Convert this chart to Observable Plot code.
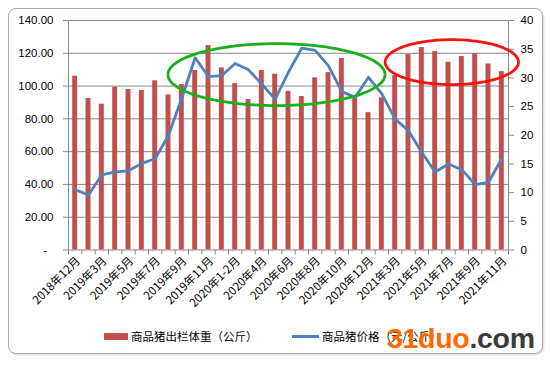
<!DOCTYPE html>
<html>
<head>
<meta charset="utf-8">
<script src="https://cdn.jsdelivr.net/npm/d3@7"></script>
<script src="https://cdn.jsdelivr.net/npm/@observablehq/plot@0.6"></script>
<style>
  html, body { margin: 0; padding: 0; background: #fff; }
  #wrap { position: relative; width: 550px; height: 366px; overflow: hidden; font-family: "Liberation Sans", "Noto Sans CJK SC", sans-serif; }
  #frame { position: absolute; left: 8px; top: 8px; width: 533px; height: 344px; border: 1.5px solid #a9a9a9; border-radius: 8px; box-shadow: 1px 1px 2px rgba(0,0,0,0.15); pointer-events: none; }
  #chart { position: absolute; left: 0; top: 0; }
  #legend { position: absolute; left: 0; top: 326px; width: 550px; height: 20px; font-family: "Noto Sans CJK SC", sans-serif; font-size: 11.5px; color: #000; }
  .item { position: absolute; top: 0; display: flex; align-items: center; height: 20px; }
  .sw { display: inline-block; margin-right: 3px; }
  #wm { position: absolute; left: 387px; top: 322px; font-family: "Liberation Sans", Arial, sans-serif; font-weight: bold; font-size: 28.5px; letter-spacing: -0.3px; }
</style>
</head>
<body>
<div id="wrap">
  <div id="chart"></div>
  <div id="legend"></div>
  <div id="frame"></div>
  <div id="wm"><span style="color:#ff6a00">31duo</span><span style="color:#3a3a3a">.com</span></div>
</div>
<script>
const categories = [
  "2018年12月","2019年1-2月","2019年3月","2019年4月","2019年5月","2019年6月","2019年7月","2019年8月",
  "2019年9月","2019年10月","2019年11月","2019年12月","2020年1-2月","2020年3月","2020年4月","2020年5月",
  "2020年6月","2020年7月","2020年8月","2020年9月","2020年10月","2020年11月","2020年12月","2021年1-2月",
  "2021年3月","2021年4月","2021年5月","2021年6月","2021年7月","2021年8月","2021年9月","2021年10月","2021年11月"
];
// 商品猪出栏体重（公斤） — left axis
const weight = [106.0, 92.4, 88.9, 99.3, 97.9, 97.3, 103.2, 94.6, 100.9, 109.5, 124.7, 111.1, 101.5, 91.8, 109.5, 107.2,
                96.8, 93.6, 105.0, 108.2, 116.8, 92.8, 83.8, 92.8, 106.4, 119.2, 123.5, 121.0, 114.5, 118.0, 119.8, 113.5, 108.8];
// 商品猪价格（元/公斤） — right axis
const price = [10.5, 9.6, 13.1, 13.6, 13.8, 15.1, 15.9, 20.0, 26.5, 33.5, 30.2, 30.4, 32.5, 31.4, 28.9, 26.3,
               31.0, 35.2, 34.8, 32.1, 27.6, 26.6, 30.1, 27.2, 22.8, 20.8, 17.0, 13.6, 15.0, 14.0, 11.4, 11.8, 15.9];
const leftTicks = [0, 20, 40, 60, 80, 100, 120, 140];
const rightTicks = [0, 5, 10, 15, 20, 25, 30, 35, 40];
const seriesNames = ["商品猪出栏体重（公斤）", "商品猪价格（元/公斤）"];
// highlight ellipses (annotation): center in category index / left-axis units, radii in same units
const highlightCx = [15.1, 28.25];
const highlightCy = [107.0, 114.6];
const highlightRx = [8.14, 5.0];
const highlightRy = [18.9, 13.7];
const highlightColor = ["#19b019", "#f5140f"];

const barColor = "#C0504D", lineColor = "#4F81BD", gridColor = "#878787";
const K = leftTicks[leftTicks.length - 1] / rightTicks[rightTicks.length - 1];

const data = categories.map((c, i) => ({i, c, w: weight[i], p: price[i]}));
const ellipses = highlightCx.map((cx, k) => {
  const pts = d3.range(0, 121).map(t => {
    const a = t / 120 * 2 * Math.PI;
    return {k, x: cx + highlightRx[k] * Math.cos(a), y: highlightCy[k] + highlightRy[k] * Math.sin(a)};
  });
  return pts;
}).flat();

const n = categories.length;
const chart = Plot.plot({
  width: 550,
  height: 320,
  marginTop: 20,
  marginLeft: 68,
  marginRight: 42,
  marginBottom: 70.5,
  x: {domain: [-0.5, n - 0.5]},
  y: {domain: [0, 140]},
  style: {fontFamily: "'Liberation Sans', 'Noto Sans CJK SC', sans-serif", fontSize: "11px", color: "#000", background: "transparent"},
  marks: [
    Plot.ruleY(leftTicks, {stroke: gridColor, strokeWidth: 1}),
    Plot.ruleX([-0.5, n - 0.5], {stroke: gridColor, strokeWidth: 1}),
    Plot.axisY(leftTicks, {anchor: "left", tickSize: 5, tickPadding: 10, stroke: gridColor,
      tickFormat: d => d === 0 ? "-\u00a0\u00a0" : d.toFixed(2), fontSize: 11.5}),
    Plot.axisY(rightTicks.map(v => v * K), {anchor: "right", tickSize: 5, tickPadding: 7, stroke: gridColor,
      tickFormat: d => String(Math.round(d / K)), fontSize: 11.5}),
    Plot.axisX(d3.range(-0.5, n, 1), {tickSize: 5, stroke: gridColor, tickFormat: () => ""}),
    Plot.axisX(d3.range(0, n, 2), {tickSize: 0, tickPadding: 9, dx: 3, tickRotate: -45,
      tickFormat: i => categories[i], fontFamily: "'Noto Sans CJK SC', sans-serif", fontSize: 11.5}),
    Plot.rectY(data, {x1: d => d.i - 0.5, x2: d => d.i + 0.5, y: "w", fill: barColor, insetLeft: 4.2, insetRight: 4.2}),
    Plot.line(data, {x: "i", y: d => d.p * K, stroke: lineColor, strokeWidth: 2.8, strokeLinejoin: "round"}),
    Plot.line(ellipses, {x: "x", y: "y", z: "k", stroke: d => highlightColor[d.k], strokeWidth: 2.8, clip: false})
  ]
});
document.getElementById("chart").appendChild(chart);

// legend
const legend = document.getElementById("legend");
const items = [
  {left: 104, swatch: `<span class="sw" style="width:24px;height:7px;background:${barColor}"></span>`, label: seriesNames[0]},
  {left: 292, swatch: `<span class="sw" style="width:27px;height:3px;background:${lineColor}"></span>`, label: seriesNames[1]}
];
for (const it of items) {
  const d = document.createElement("div");
  d.className = "item";
  d.style.left = it.left + "px";
  d.innerHTML = it.swatch + `<span>${it.label}</span>`;
  legend.appendChild(d);
}
</script>
</body>
</html>
